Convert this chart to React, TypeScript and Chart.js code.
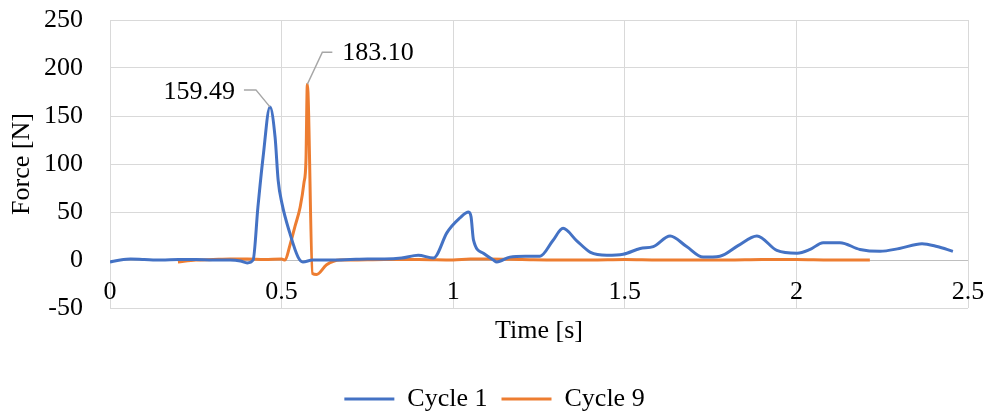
import React, { useEffect, useRef } from "react";
import { Chart, registerables } from "chart.js";

Chart.register(...registerables);

const seriesNames = ["Cycle 1", "Cycle 9"];

const cycle1Time = [
  0, 0.03, 0.06, 0.1, 0.15, 0.2, 0.25, 0.3, 0.35, 0.38, 0.4, 0.417, 0.431, 0.446, 0.466,
  0.481, 0.49, 0.501, 0.524, 0.548, 0.562, 0.59, 0.65, 0.7, 0.75, 0.8, 0.85, 0.898, 0.942,
  0.952, 0.981, 1.02, 1.045, 1.052, 1.059, 1.088, 1.117, 1.127, 1.165, 1.21, 1.253, 1.29,
  1.32, 1.36, 1.4, 1.448, 1.495, 1.545, 1.583, 1.632, 1.68, 1.728, 1.777, 1.83, 1.885,
  1.943, 2.002, 2.04, 2.078, 2.127, 2.185, 2.244, 2.3, 2.366, 2.41, 2.456,
];
const cycle1Force = [
  -2, 0, 1, 0.5, 0, 0.5, 0.5, 0, 0, -1, -3, 0, 55, 107, 159.49,
  128, 83, 59, 28, 3, -2, 0, 0, 0.5, 1, 1, 2, 5, 2,
  5, 28, 44, 50, 45, 21, 7, 0, -2, 3, 4, 4, 20,
  33, 20, 8, 5, 6, 12, 14, 25, 14, 3, 4, 15, 25,
  10, 7, 11, 18, 18, 11, 9, 12, 17, 14, 9,
];

const cycle9Time = [
  0.198, 0.25, 0.3, 0.35, 0.4, 0.45, 0.5, 0.51, 0.524, 0.539, 0.554, 0.565, 0.571, 0.575,
  0.59, 0.602, 0.631, 0.67, 0.7, 0.8, 0.9, 1.0, 1.05, 1.1, 1.2, 1.3, 1.4, 1.5, 1.6, 1.7,
  1.8, 1.9, 2.0, 2.1, 2.214,
];
const cycle9Force = [
  -2, 0, 0.5, 1, 1, 0.5, 1, 0, 15, 35, 55, 80, 104, 183.1,
  -14, -15, -5, 0, 0, 0.5, 0.5, 0, 1, 1, 0.5, 0, 0, 0.5, 0, 0,
  0, 0.5, 0.5, 0, 0,
];

const xTicks = [0, 0.5, 1, 1.5, 2, 2.5];
const yTicks = [-50, 0, 50, 100, 150, 200, 250];

const FONT = "'Liberation Serif', 'Times New Roman', serif";
const COLORS = ["#4472C4", "#ED7D31"];

// leader-line geometry for the peak labels (style only)
const labelStyle = [
  { elbow: [-14, -17], end: [-26, -17], text: [-35, -15], align: "right" },
  { elbow: [15, -32], end: [25, -32], text: [35, -31], align: "left" },
];

const peakLabels = {
  id: "peakLabels",
  afterDatasetsDraw(chart: any) {
    const ctx = chart.ctx;
    chart.data.datasets.forEach((ds: any, di: number) => {
      const meta = chart.getDatasetMeta(di);
      const vals = ds.data.map((p: any) => p.y);
      const max = Math.max(...vals);
      const idx = vals.indexOf(max);
      const el = meta.data[idx];
      if (!el) return;
      const s = labelStyle[di];
      const px = el.x;
      const py = el.y;
      ctx.save();
      ctx.strokeStyle = "#A6A6A6";
      ctx.lineWidth = 1.5;
      ctx.beginPath();
      ctx.moveTo(px, py);
      ctx.lineTo(px + s.elbow[0], py + s.elbow[1]);
      ctx.lineTo(px + s.end[0], py + s.end[1]);
      ctx.stroke();
      ctx.fillStyle = "#000";
      ctx.font = `26px ${FONT}`;
      ctx.textAlign = s.align;
      ctx.textBaseline = "middle";
      ctx.fillText(max.toFixed(2), px + s.text[0], py + s.text[1]);
      ctx.restore();
    });
  },
};

export default function App() {
  const ref = useRef<HTMLCanvasElement>(null);

  useEffect(() => {
    if (!ref.current) return;
    const chart = new Chart(ref.current, {
      type: "line",
      data: {
        datasets: [
          {
            label: seriesNames[0],
            data: cycle1Time.map((t, i) => ({ x: t, y: cycle1Force[i] })),
            borderColor: COLORS[0],
            backgroundColor: COLORS[0],
            borderWidth: 3,
            pointRadius: 0,
            cubicInterpolationMode: "monotone",
          },
          {
            label: seriesNames[1],
            data: cycle9Time.map((t, i) => ({ x: t, y: cycle9Force[i] })),
            borderColor: COLORS[1],
            backgroundColor: COLORS[1],
            borderWidth: 3,
            pointRadius: 0,
            cubicInterpolationMode: "monotone",
          },
        ],
      },
      options: {
        animation: false,
        responsive: true,
        maintainAspectRatio: false,
        layout: { padding: { top: 20, right: 0, left: 0, bottom: -6 } },
        plugins: {
          tooltip: { enabled: false },
          legend: {
            position: "bottom",
            labels: {
              usePointStyle: true,
              pointStyle: "line",
              pointStyleWidth: 50,
              padding: 14,
              color: "#000",
              font: { family: FONT, size: 26 },
            },
          },
        },
        scales: {
          x: {
            type: "linear",
            min: 0,
            max: 2.5,
            afterBuildTicks: (scale: any) => {
              scale.ticks = xTicks.map((v) => ({ value: v }));
            },
            afterFit: (scale: any) => {
              scale.height = 64;
              scale.paddingTop = 0;
              scale.paddingBottom = 0;
              scale.paddingLeft = 0;
              scale.paddingRight = 21;
            },
            grid: { color: "#D9D9D9", lineWidth: 1, drawTicks: false },
            border: { display: false },
            ticks: {
              autoSkip: false,
              maxRotation: 0,
              mirror: true,
              padding: 0,
              color: "#000",
              font: { family: FONT, size: 26 },
              callback: (v: any) => String(v),
            },
            title: {
              display: true,
              text: "Time [s]",
              color: "#000",
              font: { family: FONT, size: 26 },
              padding: { top: 0, bottom: 25.4 },
            },
          },
          y: {
            min: -50,
            max: 250,
            afterBuildTicks: (scale: any) => {
              scale.ticks = yTicks.map((v) => ({ value: v }));
            },
            afterFit: (scale: any) => {
              scale.width = 110;
              scale.paddingTop = 0;
              scale.paddingBottom = 0;
            },
            grid: {
              color: (c: any) => (c.tick && c.tick.value === 0 ? "#BFBFBF" : "#D9D9D9"),
              lineWidth: 1,
              drawTicks: false,
            },
            border: { display: false },
            ticks: {
              padding: 27,
              color: "#000",
              font: { family: FONT, size: 26 },
            },
            title: {
              display: true,
              text: "Force [N]",
              color: "#000",
              font: { family: FONT, size: 26 },
              padding: { top: 7, bottom: 0 },
            },
          },
        },
      },
      plugins: [peakLabels],
    } as any);
    return () => chart.destroy();
  }, []);

  return (
    <div style={{ position: "absolute", left: 0, top: 0, width: 989, height: 416, background: "#fff" }}>
      <canvas ref={ref} />
    </div>
  );
}
